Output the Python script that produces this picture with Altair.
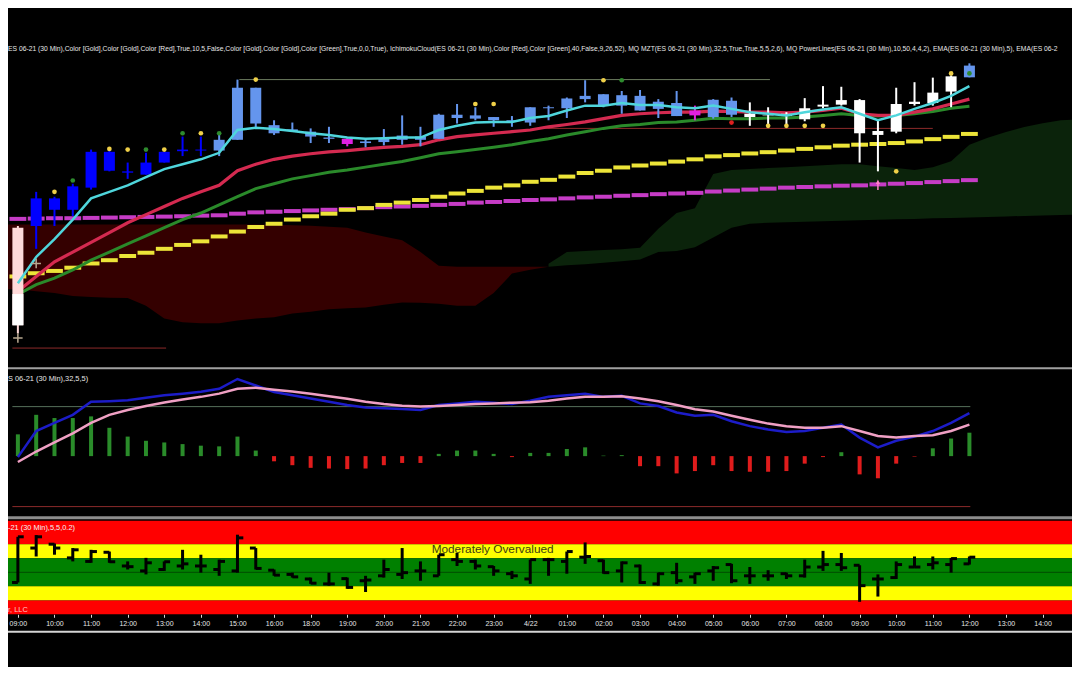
import altair as alt
import pandas as pd

# ---------------- values ----------------
bar_index = list(range(53))

time_labels = ["09:00", "10:00", "11:00", "12:00", "13:00", "14:00", "15:00", "16:00",
               "18:00", "19:00", "20:00", "21:00", "22:00", "23:00", "4/22", "01:00",
               "02:00", "03:00", "04:00", "05:00", "06:00", "07:00", "08:00", "09:00",
               "10:00", "11:00", "12:00", "13:00", "14:00"]
label_bars = [0, 2, 4, 6, 8, 10, 12, 14, 16, 18, 20, 22, 24, 26, 28, 30, 32, 34, 36, 38,
              40, 42, 44, 46, 48, 50, 52, 54, 56]

candle_top = [4143.75, 4151.25, 4151.25, 4154.33, 4163.17, 4163.17, 4158.17, 4160.42, 4163.17, 4163.75,
              4163.75, 4166.25, 4179.58, 4179.58, 4170.0, 4168.92, 4168.33, 4166.83, 4166.5, 4165.83,
              4166.67, 4167.33, 4167.08, 4172.67, 4172.67, 4172.5, 4172.08, 4171.25, 4174.58, 4174.58,
              4176.83, 4177.5, 4177.92, 4177.67, 4177.5, 4176.0, 4175.67, 4173.75, 4176.5, 4176.25,
              4172.92, 4172.67, 4172.92, 4174.33, 4175.25, 4176.42, 4176.42, 4168.5, 4175.42, 4176.0,
              4178.33, 4182.5, 4185.25]
candle_bot = [4118.75, 4144.17, 4148.33, 4148.33, 4154.0, 4158.33, 4157.83, 4157.33, 4160.42, 4163.33,
              4163.5, 4163.5, 4166.25, 4170.42, 4167.92, 4168.5, 4167.08, 4166.5, 4165.17, 4165.42,
              4165.67, 4166.25, 4166.25, 4166.5, 4171.83, 4171.67, 4171.25, 4170.83, 4170.67, 4174.33,
              4174.33, 4176.67, 4175.17, 4175.0, 4173.75, 4174.17, 4172.33, 4172.5, 4172.08, 4172.67,
              4172.08, 4172.5, 4172.33, 4171.5, 4174.75, 4175.25, 4167.92, 4167.5, 4168.33, 4175.42,
              4175.67, 4178.6, 4182.25]
candle_high = [4144.17, 4152.92, 4151.67, 4155.0, 4163.75, 4163.5, 4160.42, 4162.92, 4163.17, 4167.08,
               4167.08, 4167.5, 4181.67, 4179.58, 4171.25, 4170.67, 4169.17, 4169.58, 4166.67, 4166.5,
               4169.0, 4172.5, 4169.58, 4172.92, 4175.42, 4174.58, 4172.08, 4172.33, 4174.58, 4175.0,
               4177.08, 4181.5, 4177.92, 4178.75, 4179.0, 4176.67, 4178.75, 4175.0, 4176.67, 4177.08,
               4175.83, 4174.58, 4173.33, 4176.92, 4180.0, 4179.83, 4176.67, 4171.25, 4179.58, 4181.0,
               4182.17, 4182.75, 4185.83]
candle_low = [4116.67, 4138.33, 4144.17, 4146.67, 4153.5, 4158.17, 4156.25, 4157.33, 4160.42, 4162.08,
              4162.08, 4162.08, 4166.25, 4169.17, 4167.5, 4168.33, 4165.42, 4165.42, 4164.58, 4164.33,
              4164.83, 4165.0, 4164.58, 4166.5, 4170.42, 4171.25, 4169.58, 4169.58, 4169.83, 4171.25,
              4171.83, 4175.83, 4174.58, 4172.92, 4173.75, 4171.83, 4172.33, 4171.25, 4171.67, 4172.08,
              4169.83, 4170.17, 4170.17, 4171.0, 4174.33, 4175.0, 4160.42, 4158.17, 4167.92, 4175.0,
              4175.0, 4174.6, 4182.25]
candle_state = ["P", "B", "B", "B", "B", "B", "B", "B", "B", "B",
                "B", "L", "L", "L", "L", "L", "L", "L", "M", "L",
                "L", "L", "L", "L", "L", "L", "L", "L", "L", "L",
                "L", "L", "L", "L", "L", "L", "L", "M", "L", "L",
                "W", "W", "W", "W", "W", "W", "W", "W", "W", "W",
                "W", "W", "L"]
# the first candle is pink in its upper part and white in its lower part
first_candle_split = 4126.75

ema_fast = [4129.5, 4136.25, 4140.83, 4145.83, 4151.25, 4152.92, 4154.58, 4156.67, 4158.75, 4160.0,
            4161.25, 4162.92, 4168.75, 4169.33, 4169.0, 4168.5, 4167.92, 4167.5, 4166.83, 4166.5,
            4166.67, 4166.83, 4166.83, 4168.75, 4169.83, 4170.67, 4170.83, 4170.83, 4171.83, 4172.33,
            4173.75, 4175.0, 4175.0, 4175.67, 4175.17, 4175.17, 4174.58, 4174.33, 4175.0, 4174.17,
            4173.33, 4172.92, 4172.5, 4173.33, 4174.0, 4174.58, 4172.92, 4171.25, 4172.5, 4174.17,
            4175.67, 4177.5, 4180.0]
ema_mid = [4127.5, 4131.25, 4135.0, 4137.5, 4140.0, 4142.5, 4145.0, 4147.08, 4149.17, 4151.25,
           4152.92, 4154.58, 4158.33, 4160.0, 4161.25, 4162.08, 4162.67, 4163.17, 4163.5, 4163.92,
           4164.33, 4164.58, 4165.0, 4166.25, 4167.08, 4167.5, 4167.92, 4168.33, 4168.75, 4169.58,
           4170.17, 4170.83, 4171.67, 4172.5, 4172.92, 4173.17, 4173.33, 4173.33, 4173.58, 4173.5,
           4173.33, 4173.33, 4173.17, 4173.33, 4173.75, 4174.33, 4172.92, 4172.5, 4172.5, 4173.33,
           4174.17, 4175.42, 4176.67]
ema_slow = [4126.67, 4129.17, 4130.83, 4132.92, 4135.42, 4137.5, 4139.58, 4141.67, 4143.75, 4145.83,
            4147.5, 4149.58, 4151.67, 4153.75, 4155.0, 4156.25, 4157.08, 4157.92, 4158.5, 4159.25,
            4160.0, 4160.67, 4161.67, 4162.67, 4163.17, 4163.75, 4164.33, 4165.0, 4165.83, 4166.5,
            4167.5, 4168.33, 4169.17, 4169.83, 4170.17, 4170.67, 4170.83, 4171.25, 4171.75, 4171.67,
            4171.67, 4171.83, 4171.83, 4172.08, 4172.5, 4172.92, 4172.5, 4172.33, 4172.5, 4172.92,
            4173.5, 4174.33, 4174.83]

power_upper = [4131.25, 4132.08, 4132.67, 4133.5, 4134.58, 4135.42, 4136.5, 4137.33, 4138.33, 4139.33,
               4140.25, 4141.5, 4142.75, 4143.92, 4144.75, 4145.83, 4146.67, 4147.33, 4148.33, 4148.75,
               4149.58, 4150.17, 4150.83, 4151.67, 4152.5, 4153.17, 4154.0, 4154.58, 4155.5, 4156.0,
               4156.83, 4157.75, 4158.33, 4159.17, 4159.67, 4160.17, 4160.67, 4161.25, 4162.0, 4162.33,
               4162.75, 4163.08, 4163.5, 4163.92, 4164.33, 4164.75, 4165.0, 4165.17, 4165.42, 4165.83,
               4166.42, 4167.0, 4167.75]
power_lower = [4146.0, 4146.08, 4146.17, 4146.17, 4146.25, 4146.33, 4146.42, 4146.5, 4146.58, 4146.67,
               4146.83, 4146.92, 4147.33, 4147.67, 4147.83, 4148.0, 4148.17, 4148.33, 4148.5, 4148.75,
               4149.0, 4149.17, 4149.33, 4149.58, 4149.83, 4150.17, 4150.33, 4150.58, 4150.83, 4151.0,
               4151.25, 4151.5, 4151.67, 4151.92, 4152.08, 4152.33, 4152.5, 4152.67, 4153.0, 4153.25,
               4153.5, 4153.75, 4154.0, 4154.17, 4154.33, 4154.5, 4154.58, 4154.83, 4155.0, 4155.17,
               4155.42, 4155.67, 4155.92]

dot_bar = [2, 3, 5, 6, 7, 8, 9, 10, 11, 13, 25, 26, 32, 33, 39, 41, 42, 43, 44, 48, 51, 52]
dot_price = [4152.92, 4155.83, 4163.92, 4163.75, 4163.75, 4163.75, 4167.92, 4167.92, 4167.92, 4181.67,
             4175.42, 4175.42, 4181.5, 4181.5, 4170.67, 4169.83, 4169.83, 4169.83, 4169.83, 4158.17,
             4183.25, 4183.25]
dot_kind = ["gold", "green", "gold", "gold", "green", "gold", "green", "gold", "green", "gold",
            "gold", "gold", "gold", "green", "red", "gold", "gold", "gold", "gold", "gold",
            "gold", "green"]

cross_bar = [0, 1]
cross_price = [4115.5, 4134.58]
arrow_bar = [47]
arrow_price = [4154.75]

cloud_red_bar = [-1, 0, 1, 2, 3, 4, 5, 6, 7, 8, 9, 10, 11, 12, 13, 14, 15, 16, 17, 18, 19,
                 20, 21, 22, 23, 24, 25, 26, 27, 28, 29]
cloud_red_top = [4144.58, 4144.58, 4144.58, 4144.58, 4144.58, 4144.58, 4144.58, 4144.58, 4144.58, 4144.58, 4144.58,
                 4144.58, 4144.58, 4144.58, 4144.58, 4144.5, 4144.38, 4144.25, 4144.0, 4143.75, 4142.5,
                 4141.5, 4140.5, 4137.5, 4134.0, 4133.75, 4133.75, 4133.75, 4133.75, 4133.75, 4133.75]
cloud_red_bot = [4128.0, 4128.0, 4127.5, 4127.0, 4126.25, 4126.0, 4125.83, 4125.75, 4123.75, 4120.5, 4119.5,
                 4119.25, 4119.25, 4120.0, 4120.5, 4120.83, 4121.75, 4122.25, 4122.88, 4123.13, 4123.33,
                 4124.0, 4124.58, 4124.5, 4124.25, 4123.75, 4123.75, 4127.0, 4132.0, 4133.0, 4133.75]
cloud_green_bar = list(range(29, 59))
cloud_green_top = [4134.5, 4137.5, 4137.75, 4138.0, 4138.25, 4138.63, 4143.5, 4147.5, 4148.75, 4157.5,
                   4158.5, 4158.75, 4159.0, 4159.25, 4159.5, 4159.75, 4160.0, 4160.0, 4159.5, 4159.0,
                   4158.5, 4159.25, 4160.75, 4165.0, 4166.75, 4168.25, 4169.5, 4170.5, 4171.25, 4171.5]
cloud_green_bot = [4133.75, 4134.13, 4134.38, 4134.75, 4135.13, 4135.63, 4137.5, 4137.75, 4138.75, 4141.25,
                   4143.75, 4144.75, 4145.0, 4145.13, 4145.25, 4145.38, 4145.5, 4145.63, 4145.75, 4145.88,
                   4146.0, 4146.13, 4146.25, 4146.38, 4146.5, 4146.63, 4146.75, 4146.88, 4147.0, 4147.13]

# price reference lines: (start bar, end bar, price, kind)
pl_start = [12.1, 28.4, -0.3]
pl_end = [41.1, 50.0, 8.1]
pl_price = [4181.67, 4169.17, 4112.92]
pl_kind = ["hi", "mid", "lo"]

# MZT oscillator
mzt_fast = [-0.1, 2.57, 3.4, 4.23, 5.57, 5.63, 5.73, 5.97, 6.23, 6.4,
            6.6, 6.9, 7.9, 7.23, 6.57, 6.23, 5.9, 5.57, 5.23, 4.97,
            4.9, 4.83, 4.73, 5.23, 5.4, 5.57, 5.47, 5.33, 5.67, 6.07,
            6.23, 6.4, 6.07, 6.17, 5.4, 5.13, 4.47, 4.13, 4.23, 3.57,
            3.07, 2.73, 2.47, 2.57, 2.9, 3.23, 1.9, 0.9, 1.57, 2.0,
            2.57, 3.4, 4.4]
mzt_slow = [-0.6, 0.47, 1.4, 2.33, 3.4, 4.23, 4.73, 5.13, 5.5, 5.8,
            6.07, 6.4, 6.9, 7.0, 6.8, 6.63, 6.4, 6.13, 5.87, 5.57,
            5.33, 5.17, 5.07, 5.13, 5.23, 5.33, 5.4, 5.47, 5.53, 5.67,
            5.9, 6.07, 6.07, 6.13, 5.9, 5.63, 5.23, 4.8, 4.57, 4.13,
            3.73, 3.33, 3.07, 2.9, 2.9, 3.07, 2.57, 2.07, 1.9, 2.07,
            2.13, 2.57, 3.23]
mzt_hist = [2.23, 4.23, 3.9, 3.9, 4.07, 2.9, 2.0, 1.57, 1.4, 1.23,
            1.07, 1.0, 2.0, 0.57, -0.53, -0.93, -1.2, -1.27, -1.33, -1.27,
            -0.93, -0.7, -0.7, 0.23, 0.57, 0.57, 0.23, -0.1, 0.33, 0.33,
            0.73, 0.9, 0.05, 0.1, -1.03, -1.03, -1.77, -1.53, -0.93, -1.53,
            -1.6, -1.6, -1.53, -0.77, -0.1, 0.4, -1.87, -2.27, -0.77, -0.05,
            0.8, 1.8, 2.4]
mzt_level_start = [-0.3, -0.3]
mzt_level_end = [52.05, 52.05]
mzt_level = [5.07, -5.17]
mzt_level_kind = ["upper", "lower"]

# Value chart (open, close, high, low)
vc_open = [-2.9, 6.9, 8.0, 4.1, 3.1, 5.7, 1.8, 0.4, 0.8, 1.8,
           1.8, 0.8, 0.4, 6.9, 0.6, -0.6, -1.9, -3.3, -1.8, -2.4,
           -1.0, -0.6, 0.4, -1.0, 3.6, 3.1, 1.6, -0.4, -1.9, 3.6,
           3.1, 4.3, 3.3, 0.4, 1.8, -3.3, -0.1, -1.3, 0.4, 2.2,
           -1.0, -1.0, -0.4, -1.0, 1.5, 2.2, 2.0, -1.9, -1.5, 1.5,
           2.2, 2.2, 2.4]
vc_close = [10.1, 10.1, 6.9, 6.4, 5.9, 3.0, 1.6, 2.7, 3.0, 2.4,
            1.8, 3.1, 9.8, 1.1, -0.8, -1.3, -3.1, -3.3, -4.3, -2.2,
            0.8, -0.1, 0.4, 5.0, 3.1, 1.8, 0.4, -1.0, 3.6, 3.6,
            5.9, 4.5, -0.1, 2.7, -2.9, -0.4, -2.4, -0.4, 1.3, -2.4,
            -1.0, -1.0, -1.0, 1.5, 2.2, 1.3, -3.8, -1.9, 2.2, 1.5,
            2.7, 3.9, 4.3]
vc_high = [10.1, 10.6, 8.2, 6.9, 6.4, 5.9, 3.1, 4.1, 3.1, 6.4,
           5.0, 3.6, 10.7, 6.9, 0.8, -0.1, -1.5, -0.1, -1.5, -1.0,
           3.6, 6.9, 3.1, 5.0, 5.5, 3.6, 1.8, 0.4, 3.6, 4.1,
           5.9, 8.5, 3.6, 3.1, 2.2, -0.1, 2.7, -0.1, 1.8, 2.4,
           1.5, 0.6, -0.1, 3.6, 6.1, 5.5, 2.0, -0.6, 3.1, 4.5,
           4.5, 4.1, 4.5]
vc_low = [-2.9, 4.5, 5.0, 3.1, 2.7, 2.7, 0.8, -0.6, 0.4, 0.8,
          -0.1, -1.0, -0.1, 0.8, -1.0, -1.5, -3.3, -3.8, -4.7, -5.6,
          -1.5, -1.9, -2.4, -1.0, 1.8, 0.8, -1.0, -1.9, -3.3, -1.0,
          -0.4, 2.4, -0.4, -2.9, -3.3, -3.8, -3.3, -3.3, -2.4, -3.1,
          -3.3, -2.4, -1.9, -1.5, 0.4, 0.4, -8.4, -6.9, -1.9, 1.3,
          0.8, -0.1, 2.2]
band_low = [8, 4, -4, -8, -11.95]
band_high = [14.7, 8, 4, -4, -8]
band_zone = ["R", "Y", "G", "Y", "R"]
fair_value_line = [0.0]

title_text = ("ES 06-21 (30 Min),Color [Gold],Color [Gold],Color [Red],True,10,5,False,Color [Gold],"
              "Color [Gold],Color [Green],True,0,0,True), IchimokuCloud(ES 06-21 (30 Min),Color [Red],"
              "Color [Green],40,False,9,26,52), MQ MZT(ES 06-21 (30 Min),32,5,True,True,5,5,2,6), "
              "MQ PowerLines(ES 06-21 (30 Min),10,50,4,4,2), EMA(ES 06-21 (30 Min),5), EMA(ES 06-2")
mzt_text = "S 06-21 (30 Min),32,5,5)"
vc_text = "-21 (30 Min),5,5,0.2)"
vc_foot = "r, LLC"
vc_zone_text = "Moderately Overvalued"

# ---------------- layout ----------------
W, H = 1064, 659
SX, SY = W / 1080.0, H / 675.0
FONT = "Liberation Sans"


def lin_domain(v1, y1, v2, y2):
    k = (v2 - v1) / (y2 - y1)
    return [v1 + (675 - y1) * k, v1 - y1 * k]


X_DOM = [(0 - 5) / 18.75, (1080 - 5) / 18.75]
P_DOM = lin_domain(4200, 0, 4100, 400)
M_DOM = lin_domain(0, 459, 1, 449)
V_DOM = lin_domain(0, 578, 10, 542)

label_expr = ("[" + ",".join("'%s'" % t for t in time_labels) + "][indexof(["
              + ",".join(str(b) for b in label_bars) + "], datum.value)]")

XAX = alt.Axis(values=label_bars, labelExpr=label_expr, orient="bottom",
               offset=-(675 - 621) * SY, domain=False, grid=False,
               tickColor="#d8d8d8", tickSize=3, tickWidth=1,
               labelColor="#e6e6e6", labelFont=FONT, labelFontSize=7, labelPadding=2,
               labelOverlap=False, labelFlush=False, labelBound=False, title=None)


def X(f="i"):
    return alt.X(f"{f}:Q", scale=alt.Scale(domain=X_DOM, nice=False, zero=False), axis=XAX)


def Y(f, dom):
    return alt.Y(f"{f}:Q", scale=alt.Scale(domain=dom, nice=False, zero=False), axis=None)


one = pd.DataFrame({"k": [0]})

candles = pd.DataFrame({"i": bar_index, "top": candle_top, "bot": candle_bot,
                        "high": candle_high, "low": candle_low, "state": candle_state})
first_low = pd.DataFrame({"i": [bar_index[0]], "top": [first_candle_split], "bot": [candle_bot[0]]})
emas = pd.DataFrame({"i": bar_index, "fast": ema_fast, "mid": ema_mid, "slow": ema_slow,
                     "up": power_upper, "dn": power_lower})
dots = pd.DataFrame({"i": dot_bar, "p": dot_price, "kind": dot_kind})
crosses = pd.DataFrame({"i": cross_bar, "p": cross_price})
arrows = pd.DataFrame({"i": arrow_bar, "p": arrow_price})
cred = pd.DataFrame({"i": cloud_red_bar, "a": cloud_red_top, "b": cloud_red_bot})
cgreen = pd.DataFrame({"i": cloud_green_bar, "a": cloud_green_top, "b": cloud_green_bot})
plines = pd.DataFrame({"s": pl_start, "e": pl_end, "p": pl_price, "kind": pl_kind})
mzt = pd.DataFrame({"i": bar_index, "fast": mzt_fast, "slow": mzt_slow, "h": mzt_hist})
mlev = pd.DataFrame({"s": mzt_level_start, "e": mzt_level_end, "v": mzt_level, "kind": mzt_level_kind})
vc = pd.DataFrame({"i": bar_index, "o": vc_open, "c": vc_close, "h": vc_high, "l": vc_low})
bands = pd.DataFrame({"lo": band_low, "hi": band_high, "zone": band_zone})
fair = pd.DataFrame({"v": fair_value_line})

STATE = alt.Scale(domain=["B", "L", "W", "M", "P"],
                  range=["#0000ff", "#6495ed", "#ffffff", "#e020e0", "#ffdada"])
DOTS = alt.Scale(domain=["gold", "green", "red"], range=["#f0d048", "#2e8b2e", "#e02020"])
PLK = alt.Scale(domain=["hi", "mid", "lo"], range=["#6b7a5e", "#8c2a2a", "#8c2a2a"])
MLK = alt.Scale(domain=["upper", "lower"], range=["#56705a", "#8c2a2a"])
HST = alt.Scale(domain=["up", "dn"], range=["#2a8c2a", "#e01c1c"])
ZONE = alt.Scale(domain=["R", "Y", "G"], range=["#ff0000", "#ffff00", "#008000"])

layers = []

# ---- price panel ----
layers.append(alt.Chart(cred).mark_area(color="#340000", interpolate="linear").encode(
    x=X(), y=Y("b", P_DOM), y2="a"))
layers.append(alt.Chart(cgreen).mark_area(color="#0b230b", interpolate="linear").encode(
    x=X(), y=Y("b", P_DOM), y2="a"))
layers.append(alt.Chart(plines).mark_rule(strokeWidth=1).encode(
    x=X("s"), x2="e", y=Y("p", P_DOM),
    color=alt.Color("kind:N", scale=PLK, legend=None)))
layers.append(alt.Chart(emas).transform_calculate(a="datum.i - 0.46", b="datum.i + 0.46")
              .mark_rule(strokeWidth=4, color="#c63cc6").encode(x=X("a"), x2="b", y=Y("dn", P_DOM)))
layers.append(alt.Chart(emas).transform_calculate(a="datum.i - 0.46", b="datum.i + 0.46")
              .mark_rule(strokeWidth=4, color="#ece438").encode(x=X("a"), x2="b", y=Y("up", P_DOM)))
layers.append(alt.Chart(emas).mark_line(strokeWidth=3, color="#2a8a2a").encode(x=X(), y=Y("slow", P_DOM)))
layers.append(alt.Chart(emas).mark_line(strokeWidth=3.2, color="#d42a50").encode(x=X(), y=Y("mid", P_DOM)))
layers.append(alt.Chart(candles).mark_rule(strokeWidth=2).encode(
    x=X(), y=Y("low", P_DOM), y2="high",
    color=alt.Color("state:N", scale=STATE, legend=None)))
layers.append(alt.Chart(candles).mark_bar(size=11).encode(
    x=X(), y=Y("bot", P_DOM), y2="top",
    color=alt.Color("state:N", scale=STATE, legend=None)))
layers.append(alt.Chart(first_low).mark_bar(size=11, color="#ffffff").encode(
    x=X(), y=Y("bot", P_DOM), y2="top"))
layers.append(alt.Chart(emas).mark_line(strokeWidth=2.5, color="#4fd6dc").encode(x=X(), y=Y("fast", P_DOM)))
layers.append(alt.Chart(dots).mark_circle(size=22, opacity=1).encode(
    x=X(), y=Y("p", P_DOM), color=alt.Color("kind:N", scale=DOTS, legend=None)))
layers.append(alt.Chart(crosses).mark_point(shape="M-1,0L1,0M0,-1L0,1", filled=False, size=90,
                                            strokeWidth=1.5, color="#b8a890", opacity=1).encode(
    x=X(), y=Y("p", P_DOM)))
layers.append(alt.Chart(arrows).mark_point(shape="arrow", filled=True, size=110,
                                           color="#ff80c8", opacity=1).encode(x=X(), y=Y("p", P_DOM)))

# ---- MZT panel ----
layers.append(alt.Chart(mlev).mark_rule(strokeWidth=1).encode(
    x=X("s"), x2="e", y=Y("v", M_DOM), color=alt.Color("kind:N", scale=MLK, legend=None)))
layers.append(alt.Chart(mzt).transform_calculate(sg="datum.h >= 0 ? 'up' : 'dn'").mark_bar(size=4).encode(
    x=X(), y=Y("h", M_DOM), y2=alt.datum(0), color=alt.Color("sg:N", scale=HST, legend=None)))
layers.append(alt.Chart(mzt).mark_line(strokeWidth=2.5, color="#1c1cc8").encode(x=X(), y=Y("fast", M_DOM)))
layers.append(alt.Chart(mzt).mark_line(strokeWidth=2.5, color="#f0a0c4").encode(x=X(), y=Y("slow", M_DOM)))

# ---- Value chart panel ----
layers.append(alt.Chart(bands).mark_rect().encode(
    x=alt.value(0), x2=alt.value(W), y=Y("lo", V_DOM), y2="hi",
    color=alt.Color("zone:N", scale=ZONE, legend=None)))
layers.append(alt.Chart(fair).mark_rule(strokeWidth=1, color="#004a00").encode(
    x=alt.value(0), x2=alt.value(W), y=Y("v", V_DOM)))
layers.append(alt.Chart(vc).mark_rule(strokeWidth=3, color="black").encode(
    x=X(), y=Y("l", V_DOM), y2="h"))
layers.append(alt.Chart(vc).transform_calculate(a="datum.i - 0.32").mark_rule(strokeWidth=3, color="black").encode(
    x=X("a"), x2="i", y=Y("o", V_DOM)))
layers.append(alt.Chart(vc).transform_calculate(b="datum.i + 0.32").mark_rule(strokeWidth=3, color="black").encode(
    x=X("i"), x2="b", y=Y("c", V_DOM)))

# ---- separators ----
for yy, col, sw in [(369, "#a0a0a0", 2), (522, "#8c8c8c", 3), (639, "#d4d4d4", 2)]:
    layers.append(alt.Chart(one).mark_rule(color=col, strokeWidth=sw).encode(
        x=alt.value(0), x2=alt.value(W), y=alt.value(yy * SY)))

# ---- texts ----
for txt, xx, yy, size, col in [(title_text, 0, 42, 6.75, "#e8e8e8"),
                               (mzt_text, 0, 380, 7.4, "#e8e8e8"),
                               (vc_text, 0, 533, 7.4, "#f4f4f4"),
                               (vc_foot, 0, 617, 7.4, "#ffc8c8")]:
    layers.append(alt.Chart(one).mark_text(align="left", baseline="middle", font=FONT,
                                           fontSize=size, color=col).encode(
        x=alt.value(xx * SX), y=alt.value(yy * SY), text=alt.value(txt)))
layers.append(alt.Chart(one).mark_text(align="left", baseline="middle", font=FONT,
                                       fontSize=11.8, color="#3c3c14").encode(
    x=alt.value(430 * SX), y=alt.value(554 * SY), text=alt.value(vc_zone_text)))

chart = (alt.layer(*layers)
         .resolve_scale(y="independent", color="independent")
         .properties(width=W, height=H, background="black", padding=0,
                     autosize=alt.AutoSizeParams(type="none"))
         .configure_view(stroke=None))

chart.save("out.html", embed_options={"renderer": "svg", "actions": False})
